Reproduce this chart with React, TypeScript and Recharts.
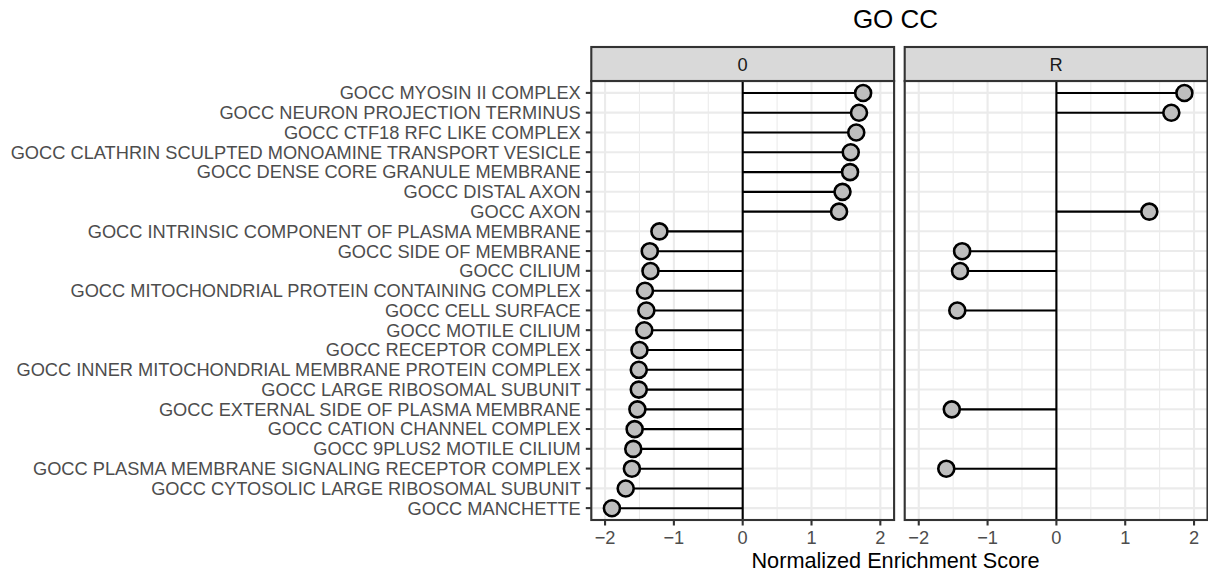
import React from "react";
import {
  BarChart,
  Bar,
  XAxis,
  YAxis,
  CartesianGrid,
  ReferenceLine,
} from "recharts";

const terms: string[] = [
  "GOCC MYOSIN II COMPLEX",
  "GOCC NEURON PROJECTION TERMINUS",
  "GOCC CTF18 RFC LIKE COMPLEX",
  "GOCC CLATHRIN SCULPTED MONOAMINE TRANSPORT VESICLE",
  "GOCC DENSE CORE GRANULE MEMBRANE",
  "GOCC DISTAL AXON",
  "GOCC AXON",
  "GOCC INTRINSIC COMPONENT OF PLASMA MEMBRANE",
  "GOCC SIDE OF MEMBRANE",
  "GOCC CILIUM",
  "GOCC MITOCHONDRIAL PROTEIN CONTAINING COMPLEX",
  "GOCC CELL SURFACE",
  "GOCC MOTILE CILIUM",
  "GOCC RECEPTOR COMPLEX",
  "GOCC INNER MITOCHONDRIAL MEMBRANE PROTEIN COMPLEX",
  "GOCC LARGE RIBOSOMAL SUBUNIT",
  "GOCC EXTERNAL SIDE OF PLASMA MEMBRANE",
  "GOCC CATION CHANNEL COMPLEX",
  "GOCC 9PLUS2 MOTILE CILIUM",
  "GOCC PLASMA MEMBRANE SIGNALING RECEPTOR COMPLEX",
  "GOCC CYTOSOLIC LARGE RIBOSOMAL SUBUNIT",
  "GOCC MANCHETTE",
];

const nes0: (number | null)[] = [
  1.75, 1.69, 1.65, 1.57, 1.56, 1.45, 1.4, -1.21, -1.35, -1.34, -1.42, -1.4,
  -1.43, -1.5, -1.51, -1.51, -1.53, -1.57, -1.59, -1.61, -1.7, -1.9,
];

const nesR: (number | null)[] = [
  1.86, 1.67, null, null, null, null, 1.35, null, -1.37, -1.4, null, -1.44,
  null, null, null, null, -1.52, null, null, -1.6, null, null,
];

const facetLabels: string[] = ["0", "R"];
const majorTicks: number[] = [-2, -1, 0, 1, 2];
const minorTicks: number[] = [-1.5, -0.5, 0.5, 1.5];
const xDomain: [number, number] = [-2.2, 2.2];
const titleText = "GO CC";
const xTitle = "Normalized Enrichment Score";

const data0 = terms.map((t, i) => ({ term: t, nes: nes0[i] }));
const dataR = terms.map((t, i) => ({ term: t, nes: nesR[i] }));

const FONT = "'Liberation Sans', Arial, Helvetica, sans-serif";
const LW = 2.1;
const AXIS_FS = 18.25;

const fmt = (v: number) => (v < 0 ? "\u2212" + Math.abs(v) : String(v));

const Lollipop = (props: any) => {
  const { x, y, width, height, payload } = props;
  const v = payload ? payload.nes : null;
  if (v === null || v === undefined || isNaN(x) || isNaN(width)) return <g />;
  const a = x;
  const b = x + width;
  const end = v >= 0 ? Math.max(a, b) : Math.min(a, b);
  const start = v >= 0 ? Math.min(a, b) : Math.max(a, b);
  const cy = y + height / 2;
  return (
    <g>
      <line x1={start} x2={end} y1={cy} y2={cy} stroke="#000" strokeWidth={LW} />
      <circle cx={end} cy={cy} r={8} fill="#BEBEBE" stroke="#000" strokeWidth={2.6} />
    </g>
  );
};

const PLOT_TOP = 81;
const PLOT_H = 439;
const AXIS_H = 40;
const P0_LEFT = 591.3;
const P_W = 302.8;
const PR_LEFT = 904.7;

function Panel({ data, showY, width, yWidth }: any) {
  return (
    <BarChart
      width={width}
      height={PLOT_H + AXIS_H}
      data={data}
      layout="vertical"
      margin={{ top: 0, right: 0, bottom: 0, left: 0 }}
      barCategoryGap={0}
    >
      <CartesianGrid
        horizontal={true}
        vertical={true}
        stroke="#EBEBEB"
        strokeWidth={LW}
        fill="#FFFFFF"
      />
      <CartesianGrid
        xAxisId="minor"
        horizontal={false}
        vertical={true}
        stroke="#EBEBEB"
        strokeWidth={1.07}
      />
      <XAxis
        type="number"
        domain={xDomain}
        ticks={majorTicks}
        allowDataOverflow
        interval={0}
        height={AXIS_H}
        axisLine={false}
        tickLine={{ stroke: "#333333", strokeWidth: LW }}
        tickSize={5.5}
        tickMargin={5.5}
        tickFormatter={fmt}
        tick={{ fill: "#4D4D4D", fontSize: AXIS_FS, fontFamily: FONT }}
      />
      <XAxis
        xAxisId="minor"
        type="number"
        domain={xDomain}
        ticks={minorTicks}
        allowDataOverflow
        interval={0}
        hide
      />
      <YAxis
        type="category"
        dataKey="term"
        hide={!showY}
        width={yWidth}
        interval={0}
        padding={{ top: 2, bottom: 2 }}
        axisLine={false}
        tickLine={{ stroke: "#333333", strokeWidth: LW }}
        tickSize={5.5}
        tickMargin={5}
        tick={{ fill: "#4D4D4D", fontSize: AXIS_FS, fontFamily: FONT }}
      />
      <ReferenceLine x={0} stroke="#000" strokeWidth={LW} ifOverflow="visible" />
      <Bar
        dataKey="nes"
        barSize={2}
        isAnimationActive={false}
        shape={Lollipop}
      />
    </BarChart>
  );
}

export default function App() {
  const stripTop = 47;
  const stripH = PLOT_TOP - stripTop;
  const centerX = 895.5;
  return (
    <div
      style={{
        position: "absolute",
        left: 0,
        top: 0,
        width: 1208,
        height: 576,
        background: "#FFFFFF",
        fontFamily: FONT,
        overflow: "hidden",
      }}
    >
      <div style={{ position: "absolute", left: 0, top: PLOT_TOP }}>
        <Panel data={data0} showY={true} width={P0_LEFT + P_W} yWidth={P0_LEFT} />
      </div>
      <div style={{ position: "absolute", left: PR_LEFT, top: PLOT_TOP }}>
        <Panel data={dataR} showY={false} width={P_W} yWidth={0} />
      </div>
      <svg
        width={1208}
        height={576}
        style={{ position: "absolute", left: 0, top: 0, pointerEvents: "none" }}
      >
        {[P0_LEFT, PR_LEFT].map((lx, i) => (
          <g key={i}>
            <rect
              x={lx}
              y={PLOT_TOP}
              width={P_W}
              height={PLOT_H}
              fill="none"
              stroke="#333333"
              strokeWidth={LW}
            />
            <rect
              x={lx}
              y={stripTop}
              width={P_W}
              height={stripH}
              fill="#D9D9D9"
              stroke="#333333"
              strokeWidth={LW}
            />
            <text
              x={lx + P_W / 2}
              y={70.7}
              textAnchor="middle"
              fontSize={AXIS_FS}
              fontFamily={FONT}
              fill="#1A1A1A"
            >
              {facetLabels[i]}
            </text>
          </g>
        ))}
        <text
          x={centerX}
          y={28}
          textAnchor="middle"
          fontSize={26}
          fontFamily={FONT}
          fill="#000"
        >
          {titleText}
        </text>
        <text
          x={centerX}
          y={568}
          textAnchor="middle"
          fontSize={21.7}
          fontFamily={FONT}
          fill="#000"
        >
          {xTitle}
        </text>
      </svg>
    </div>
  );
}
